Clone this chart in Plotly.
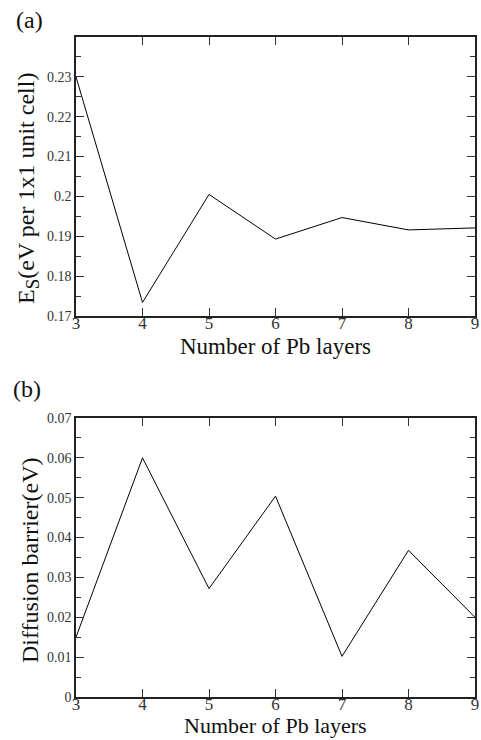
import plotly.graph_objects as go

layers = [3, 4, 5, 6, 7, 8, 9]
surface_energy = [0.2300, 0.1734, 0.2005, 0.1893, 0.1947, 0.1916, 0.1921]
diffusion_barrier = [0.0150, 0.0600, 0.0272, 0.0504, 0.0102, 0.0368, 0.0200]
y1_ticks = [0.17, 0.18, 0.19, 0.20, 0.21, 0.22, 0.23]
y1_labels = ["0.17", "0.18", "0.19", "0.2", "0.21", "0.22", "0.23"]
y2_ticks = [0, 0.01, 0.02, 0.03, 0.04, 0.05, 0.06, 0.07]
y2_labels = ["0", "0.01", "0.02", "0.03", "0.04", "0.05", "0.06", "0.07"]

FONT = "Liberation Serif"

fig = go.Figure()
fig.add_trace(go.Scatter(x=layers, y=surface_energy, mode="lines",
                         line=dict(color="black", width=1), xaxis="x", yaxis="y",
                         showlegend=False))
fig.add_trace(go.Scatter(x=layers, y=diffusion_barrier, mode="lines",
                         line=dict(color="black", width=1), xaxis="x2", yaxis="y2",
                         showlegend=False))

W, H = 481, 740
xd = [76 / W, 475 / W]

common_x = dict(range=[3, 9], tickmode="linear", tick0=3, dtick=1, ticks="inside",
                ticklen=8, tickwidth=1, tickcolor="#333", showline=True, linecolor="#222",
                linewidth=1.5, mirror="ticks", showgrid=False, zeroline=False,
                ticklabeloverflow="allow", ticklabelstandoff=-9,
                tickfont=dict(family=FONT, size=17, color="#333"))
common_y = dict(ticks="inside", ticklen=8, tickwidth=1, tickcolor="#333", showline=True,
                linecolor="#222", linewidth=1.5, mirror="ticks", showgrid=False, zeroline=False,
                ticklabeloverflow="allow",
                tickfont=dict(family=FONT, size=14, color="#333"),
                minor=dict(ticks="inside", ticklen=5, tickwidth=1, tickcolor="#333", showgrid=False))


def px_x(v):
    return v / W


def px_y(v):
    return 1 - v / H


def label(text, x, y, size, angle=0, anchor="center", vanchor="middle"):
    return dict(text=text, x=px_x(x), y=px_y(y), xref="paper", yref="paper",
                xanchor=anchor, yanchor=vanchor, showarrow=False, textangle=angle,
                font=dict(family=FONT, size=size, color="#111"))


fig.update_layout(
    width=W, height=H,
    margin=dict(l=0, r=0, t=0, b=0, autoexpand=False),
    paper_bgcolor="white", plot_bgcolor="white",
    xaxis=dict(domain=xd, anchor="y", **common_x),
    yaxis=dict(domain=[1 - 316 / H, 1 - 37 / H], anchor="x", range=[0.17, 0.24],
               tickmode="array", tickvals=y1_ticks, ticktext=y1_labels, **common_y),
    xaxis2=dict(domain=xd, anchor="y2", **common_x),
    yaxis2=dict(domain=[1 - 697 / H, 1 - 418 / H], anchor="x2", range=[0, 0.07],
                tickmode="array", tickvals=y2_ticks, ticktext=y2_labels, **common_y),
    annotations=[
        label("(a)", 14, 20, 24, anchor="left"),
        label("(b)", 11, 389, 24, anchor="left"),
        label("Number of Pb layers", 275, 346, 23),
        label("Number of Pb layers", 275, 740, 22, vanchor="bottom"),
        label("E<sub><span style='font-size:19px'>S</span></sub>(eV per 1x1 unit cell)",
              28, 189, 24, angle=-90),
        label("Diffusion barrier(eV)", 30, 561, 24, angle=-90),
    ],
)

fig.write_html("out.html", config={"displayModeBar": False},
               post_script="document.body.style.margin='0';document.body.style.overflow='hidden';")
